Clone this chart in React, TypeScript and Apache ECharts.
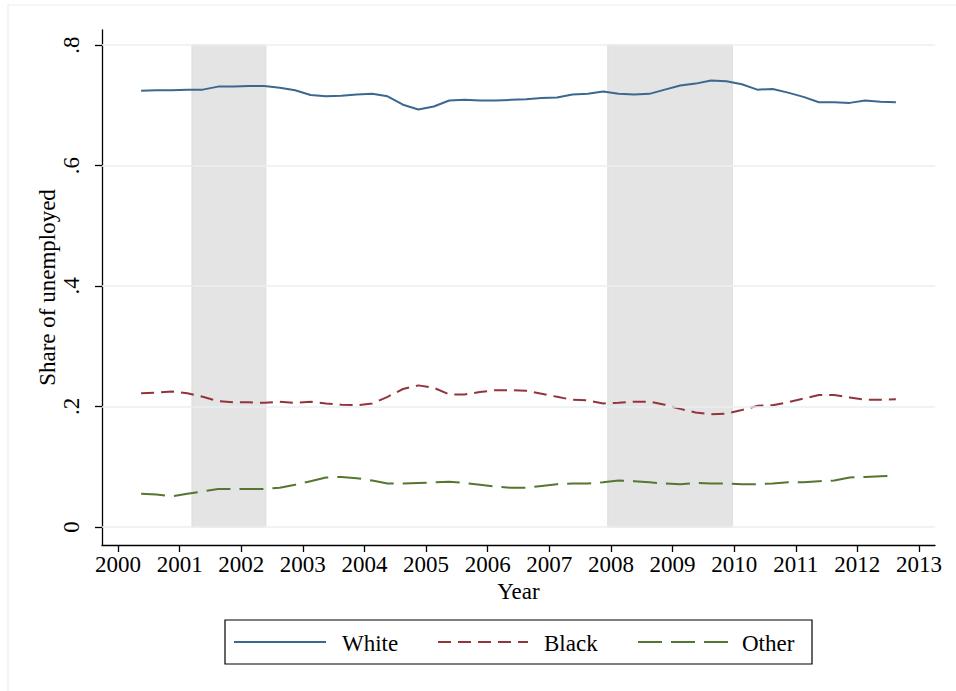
import React, { useEffect, useRef } from "react";
import * as echarts from "echarts";

const quarters = [
  2000.375, 2000.625, 2000.875, 2001.125, 2001.375, 2001.625, 2001.875, 2002.125, 2002.375, 2002.625,
  2002.875, 2003.125, 2003.375, 2003.625, 2003.875, 2004.125, 2004.375, 2004.625, 2004.875, 2005.125,
  2005.375, 2005.625, 2005.875, 2006.125, 2006.375, 2006.625, 2006.875, 2007.125, 2007.375, 2007.625,
  2007.875, 2008.125, 2008.375, 2008.625, 2008.875, 2009.125, 2009.375, 2009.625, 2009.875, 2010.125,
  2010.375, 2010.625, 2010.875, 2011.125, 2011.375, 2011.625, 2011.875, 2012.125, 2012.375, 2012.625,
];

const white = [
  0.724, 0.725, 0.725, 0.726, 0.726, 0.731, 0.731, 0.732, 0.732, 0.729,
  0.725, 0.717, 0.715, 0.716, 0.718, 0.719, 0.715, 0.701, 0.693, 0.698,
  0.708, 0.709, 0.708, 0.708, 0.709, 0.710, 0.712, 0.713, 0.718, 0.719,
  0.723, 0.719, 0.718, 0.719, 0.726, 0.733, 0.736, 0.741, 0.740, 0.735,
  0.726, 0.727, 0.721, 0.714, 0.705, 0.705, 0.704, 0.708, 0.706, 0.705,
];

const black = [
  0.222, 0.223, 0.225, 0.222, 0.216, 0.209, 0.207, 0.207, 0.206, 0.208,
  0.206, 0.208, 0.205, 0.203, 0.202, 0.205, 0.216, 0.229, 0.235, 0.231,
  0.220, 0.220, 0.224, 0.227, 0.227, 0.226, 0.221, 0.216, 0.211, 0.210,
  0.205, 0.206, 0.208, 0.208, 0.203, 0.196, 0.190, 0.187, 0.188, 0.194,
  0.201, 0.202, 0.207, 0.213, 0.219, 0.219, 0.215, 0.211, 0.211, 0.212,
];

const other = [
  0.055, 0.054, 0.051, 0.055, 0.059, 0.063, 0.063, 0.063, 0.063, 0.065,
  0.070, 0.076, 0.082, 0.083, 0.081, 0.077, 0.072, 0.072, 0.073, 0.074,
  0.075, 0.073, 0.070, 0.067, 0.065, 0.065, 0.068, 0.071, 0.072, 0.072,
  0.074, 0.077, 0.076, 0.074, 0.072, 0.071, 0.073, 0.072, 0.072, 0.071,
  0.071, 0.072, 0.074, 0.074, 0.076, 0.077, 0.082, 0.083, 0.084, 0.085,
];

const recessions: [number, number][] = [
  [2001.2, 2002.4],
  [2007.95, 2009.97],
];

const yearTicks = [2000, 2001, 2002, 2003, 2004, 2005, 2006, 2007, 2008, 2009, 2010, 2011, 2012, 2013];
const yTicks = [0, 0.2, 0.4, 0.6, 0.8];

const FONT = "'Liberation Serif', 'Times New Roman', serif";
const FS = 23;
const C_WHITE = "#3b6791";
const C_BLACK = "#93343c";
const C_OTHER = "#55762f";

export default function App() {
  const ref = useRef<HTMLDivElement>(null);

  useEffect(() => {
    if (!ref.current) return;
    const chart = echarts.init(ref.current, null, { renderer: "svg" });
    const pair = (ys: number[]) => quarters.map((x, i) => [x, ys[i]]);

    const option: any = {
      animation: false,
      backgroundColor: "#ffffff",
      textStyle: { fontFamily: FONT },
      grid: { left: 102, right: 21, top: 30, bottom: 146, containLabel: false },
      xAxis: {
        type: "value",
        min: 1999.74,
        max: 2013.26,
        name: "Year",
        nameLocation: "middle",
        nameGap: 35,
        nameMoveOverlap: false,
        nameTextStyle: { fontFamily: FONT, fontSize: FS, color: "#000" },
        axisLine: { show: true, onZero: false, lineStyle: { color: "#000", width: 1.3 } },
        axisTick: { show: true, length: 7, customValues: yearTicks, lineStyle: { color: "#000", width: 1.3 } },
        axisLabel: {
          customValues: yearTicks,
          fontFamily: FONT,
          fontSize: FS,
          color: "#000",
          margin: 8,
          formatter: (v: number) => String(Math.round(v)),
        },
        splitLine: { show: false },
      },
      yAxis: {
        type: "value",
        min: -0.03,
        max: 0.825,
        name: "Share of unemployed",
        nameLocation: "middle",
        nameRotate: 90,
        nameGap: 43,
        nameMoveOverlap: false,
        nameTextStyle: { fontFamily: FONT, fontSize: FS, color: "#000" },
        axisLine: { show: true, onZero: false, lineStyle: { color: "#000", width: 1.3 } },
        axisTick: { show: true, length: 7, customValues: yTicks, lineStyle: { color: "#000", width: 1.3 } },
        axisLabel: {
          customValues: yTicks,
          rotate: 90,
          fontFamily: FONT,
          fontSize: FS,
          color: "#000",
          margin: 19,
          formatter: (v: number) => (v === 0 ? "0" : String(Number(v.toFixed(1))).replace("0.", ".")),
        },
        splitLine: { show: false },
      },
      series: [
        {
          type: "line",
          name: "grid",
          data: [],
          z: 1,
          silent: true,
          markArea: {
            silent: true,
            itemStyle: { color: "#e4e4e4", borderColor: "#dcdcdc", borderWidth: 1 },
            data: recessions.map(([a, b]) => [
              { xAxis: a, yAxis: 0 },
              { xAxis: b, yAxis: 0.8 },
            ]),
          },
          markLine: {
            silent: true,
            symbol: ["none", "none"],
            label: { show: false },
            lineStyle: { color: "#e8eff3", width: 1.6, type: "solid" },
            data: yTicks.map((v) => ({ yAxis: v })),
          },
        },
        {
          type: "line",
          name: "White",
          data: pair(white),
          z: 3,
          showSymbol: false,
          symbol: "none",
          lineStyle: { color: C_WHITE, width: 2 },
        },
        {
          type: "line",
          name: "Black",
          data: pair(black),
          z: 3,
          showSymbol: false,
          symbol: "none",
          lineStyle: { color: C_BLACK, width: 2, type: [13, 7] },
        },
        {
          type: "line",
          name: "Other",
          data: pair(other),
          z: 3,
          showSymbol: false,
          symbol: "none",
          lineStyle: { color: C_OTHER, width: 2, type: [24, 9] },
        },
      ],
      graphic: [
        {
          type: "rect",
          shape: { x: 8, y: 5, width: 960, height: 700 },
          style: { fill: "none", stroke: "#e8eff3", lineWidth: 1.2 },
          silent: true,
          z: 0,
        },
        {
          type: "group",
          children: [
            {
              type: "rect",
              shape: { x: 225, y: 620, width: 587, height: 44 },
              style: { fill: "#fff", stroke: "#000", lineWidth: 1.2 },
            },
            { type: "line", shape: { x1: 234, y1: 642, x2: 326, y2: 642 }, style: { stroke: C_WHITE, lineWidth: 2 } },
            {
              type: "text",
              x: 342,
              y: 643,
              style: { text: "White", font: `${FS}px ${FONT}`, fill: "#000", verticalAlign: "middle" },
            },
            {
              type: "line",
              shape: { x1: 438, y1: 642, x2: 528, y2: 642 },
              style: { stroke: C_BLACK, lineWidth: 2, lineDash: [13, 7] },
            },
            {
              type: "text",
              x: 544,
              y: 643,
              style: { text: "Black", font: `${FS}px ${FONT}`, fill: "#000", verticalAlign: "middle" },
            },
            {
              type: "line",
              shape: { x1: 638, y1: 642, x2: 728, y2: 642 },
              style: { stroke: C_OTHER, lineWidth: 2, lineDash: [24, 9] },
            },
            {
              type: "text",
              x: 742,
              y: 643,
              style: { text: "Other", font: `${FS}px ${FONT}`, fill: "#000", verticalAlign: "middle" },
            },
          ],
        },
      ],
    };

    chart.setOption(option);
    return () => chart.dispose();
  }, []);

  return (
    <div
      ref={ref}
      style={{ position: "fixed", left: 0, top: 0, width: 956, height: 691, background: "#fff" }}
    />
  );
}
